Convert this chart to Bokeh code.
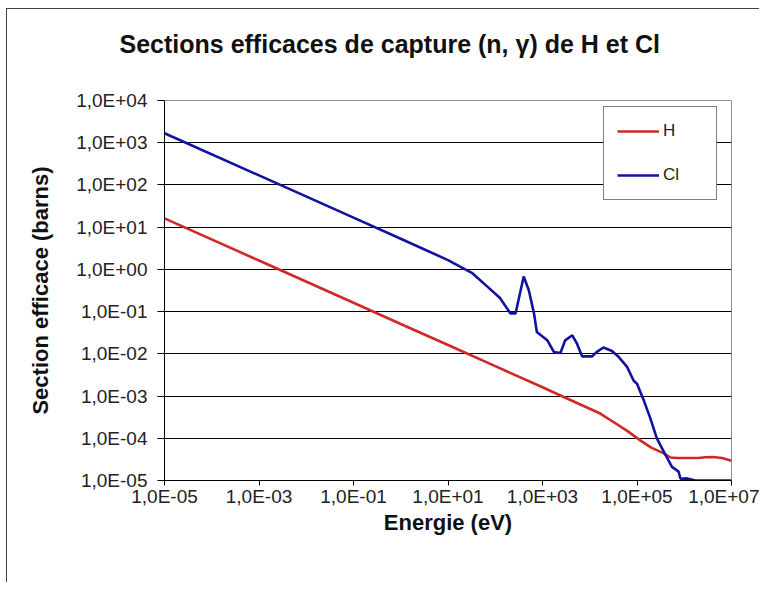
from bokeh.plotting import figure
from bokeh.models import (Range1d, FixedTicker, CustomJSTickFormatter, Legend,
                          LegendItem, Title)
from bokeh.embed import file_html
from bokeh.resources import INLINE

# ---- data ----
h_energy = [1e-5, 1e-3, 1e-1, 1, 10, 100, 1000, 2818, 1e4, 1.7e4, 3.24e4, 6.3e4,
            1.17e5, 2.0e5, 3.7e5, 5.1e5, 7.1e5, 2.0e6, 2.8e6, 4.0e6, 6.3e6, 1e7]
h_sigma = [16.2, 1.62, 0.162, 0.051, 0.0162, 0.0051, 0.00162, 9.5e-4, 5.0e-4, 3.8e-4,
           2.4e-4, 1.48e-4, 8.9e-5, 6.0e-5, 4.4e-5, 3.5e-5, 3.4e-5, 3.4e-5, 3.55e-5,
           3.6e-5, 3.4e-5, 2.95e-5]

cl_energy = [1e-5, 1e-3, 1e-1, 1, 10, 18, 32, 68, 126, 209, 270, 400, 513, 661, 759,
             1259, 1738, 2399, 3020, 4266, 5370, 6918, 11220, 14125, 19498, 29512,
             40738, 61660, 85114, 1e5, 1.41e5, 1.91e5, 2.63e5, 3.98e5, 5.5e5, 7.59e5,
             8.32e5, 1.15e6, 1.74e6, 1e7]
cl_sigma = [1680, 168, 16.8, 5.3, 1.66, 1.16, 0.83, 0.39, 0.21, 0.091, 0.091, 0.68,
            0.32, 0.091, 0.033, 0.021, 0.0111, 0.0105, 0.0209, 0.0275, 0.0174, 0.0087,
            0.0087, 0.0111, 0.0141, 0.0117, 0.0085, 0.0049, 0.0023, 0.00195, 7.6e-4,
            3.0e-4, 1.0e-4, 4.1e-5, 2.1e-5, 1.62e-5, 1.1e-5, 1.12e-5, 1.0e-5, 1.0e-5]

x_ticks = [1e-5, 1e-3, 1e-1, 1e1, 1e3, 1e5, 1e7]
x_tick_labels = ["1,0E-05", "1,0E-03", "1,0E-01", "1,0E+01", "1,0E+03", "1,0E+05", "1,0E+07"]
y_ticks = [1e-5, 1e-4, 1e-3, 1e-2, 1e-1, 1e0, 1e1, 1e2, 1e3, 1e4]
y_tick_labels = ["1,0E-05", "1,0E-04", "1,0E-03", "1,0E-02", "1,0E-01", "1,0E+00",
                 "1,0E+01", "1,0E+02", "1,0E+03", "1,0E+04"]

series_names = ["H", "Cl"]
title_text = "Sections efficaces de capture (n, \u03b3) de H et Cl"
x_title = "Energie (eV)"
y_title = "Section efficace (barns)"

FONT = "Liberation Sans"
RED = "#D02828"
BLUE = "#1212A0"

W, H = 753, 574
p = figure(width=W, height=H, x_axis_type="log", y_axis_type="log",
           x_range=Range1d(1e-5, 1e7), y_range=Range1d(1e-5, 1e4),
           output_backend="svg", toolbar_location=None, title=None,
           min_border_left=157, min_border_right=29,
           min_border_top=91, min_border_bottom=103)
p.margin = (8, 0, 0, 6)
p.styles = {"border-left": "1px solid #404040", "border-top": "1px solid #404040"}
p.background_fill_color = "white"
p.border_fill_color = "white"
p.outline_line_color = "#909090"
p.outline_line_width = 1

# spacer panel between the frame and the title, then the title itself
spacer = Title(text=" ", text_font_size="10px", standoff=30)
p.add_layout(spacer, "above")
main_title = Title(text=title_text, align="left", offset=-45, standoff=0,
                   text_font=FONT, text_font_style="bold", text_font_size="25px",
                   text_color="#111111")
p.add_layout(main_title, "above")

fmt_code = """
let best = 0, bd = Infinity;
for (let i = 0; i < tvals.length; i++) {
  const d = Math.abs(Math.log10(tvals[i]) - Math.log10(tick));
  if (d < bd) { bd = d; best = i; }
}
return tlabels[best];
"""

# x axis
xa = p.xaxis[0]
xa.ticker = FixedTicker(ticks=x_ticks, minor_ticks=[])
xa.formatter = CustomJSTickFormatter(args=dict(tvals=x_ticks, tlabels=x_tick_labels), code=fmt_code)
xa.axis_label = x_title
# y axis
ya = p.yaxis[0]
ya.ticker = FixedTicker(ticks=y_ticks, minor_ticks=[])
ya.formatter = CustomJSTickFormatter(args=dict(tvals=y_ticks, tlabels=y_tick_labels), code=fmt_code)
ya.axis_label = y_title

for ax in (xa, ya):
    ax.axis_line_color = "black"
    ax.axis_line_width = 1
    ax.major_tick_line_color = "black"
    ax.major_tick_in = 0
    ax.minor_tick_line_color = None
    ax.major_label_text_font = FONT
    ax.major_label_text_font_size = "19px"
    ax.major_label_text_color = "#222222"
    ax.axis_label_text_font = FONT
    ax.axis_label_text_font_style = "bold"
    ax.axis_label_text_font_size = "22px"
    ax.axis_label_text_color = "#111111"

xa.major_tick_out = 5
xa.major_label_standoff = 0
xa.axis_label_standoff = 0
ya.major_tick_out = 7
ya.major_label_standoff = 10
ya.axis_label_standoff = 20

p.xgrid.grid_line_color = None
p.ygrid.ticker = FixedTicker(ticks=y_ticks)
p.ygrid.grid_line_color = "black"
p.ygrid.grid_line_width = 1

r_h = p.line(h_energy, h_sigma, line_color=RED, line_width=2.6)
r_cl = p.line(cl_energy, cl_sigma, line_color=BLUE, line_width=2.6)

legend = Legend(items=[LegendItem(label=series_names[0], renderers=[r_h]),
                       LegendItem(label=series_names[1], renderers=[r_cl])],
                location=(439, 280), orientation="vertical")
legend.padding = 13
legend.spacing = 22
legend.glyph_width = 42
legend.glyph_height = 22
legend.label_width = 40
legend.label_standoff = 4
legend.label_text_font = FONT
legend.label_text_font_size = "17px"
legend.label_text_color = "#222222"
legend.border_line_color = "black"
legend.border_line_width = 1
legend.background_fill_color = "white"
legend.background_fill_alpha = 1.0
legend.margin = 0
p.add_layout(legend, "center")

open("out.html", "w").write(file_html(p, INLINE))
